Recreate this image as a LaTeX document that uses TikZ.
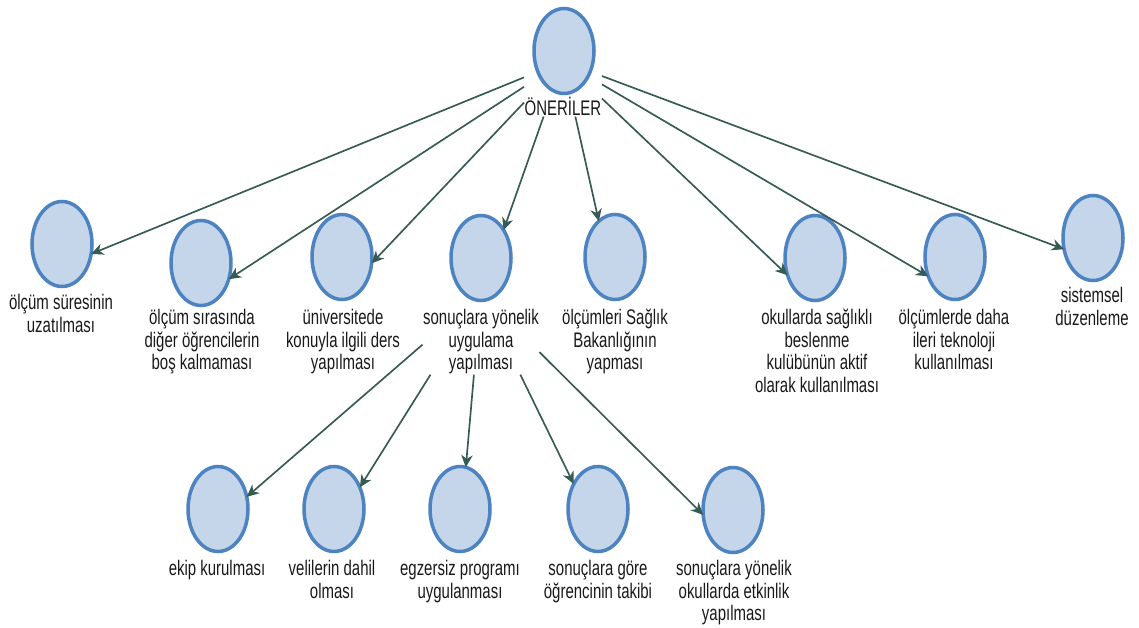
\documentclass[tikz,border=0pt]{standalone}
\usepackage{fontspec}
\setmainfont{Liberation Sans}[FakeStretch=0.71]
\usetikzlibrary{arrows.meta,fit,intersections,shapes.geometric}

\definecolor{ellfill}{HTML}{C5D6EA}
\definecolor{ellline}{HTML}{4D83C0}
\definecolor{arrcol}{HTML}{365A54}

% one idea: ellipse, caption below it, and an invisible frame around both
\newcommand\idea[6]{%
  \node[ell] (#1) at (#2,#3) {};
  \path[name path=e#1] (#2,#3) ellipse [x radius=0.6cm, y radius=0.85cm];
  \node[lbl] (#1t) at (#5,#4) {#6};
  \node[grp, fit=(#1)(#1t)] (#1g) {};
}
% connector aimed from frame centre to frame centre, ending on the ellipse
\newcommand\link[2]{%
  \path[name path=l#1#2] (#1g.center) -- (#2g.center);
  \path[name intersections={of=l#1#2 and e#2, by=tip#1#2}];
  \draw[arr] (#1g) -- (tip#1#2);
}

\begin{document}
\begin{tikzpicture}[x=0.02cm, y=-0.02cm,
  ell/.style={ellipse, draw=ellline, fill=ellfill, line width=2pt,
    minimum width=1.2cm, minimum height=1.7cm, inner sep=0pt},
  lbl/.style={align=center, anchor=north, inner sep=0pt,
    font=\fontsize{12}{12.8}\selectfont, text=black!90},
  grp/.style={inner sep=0pt, draw=none},
  arr/.style={draw=arrcol, line width=0.95pt,
    -{Stealth[length=7pt, width=6.5pt, inset=2.2pt]}}]
\useasboundingbox (0,0) rectangle (1139,628);

% root
\idea{r}{564}{51}{97}{563}{ÖNERİLER}

% first level
\idea{a}{62}{244}{294}{61}{ölçüm süresinin\\uzatılması}
\idea{b}{201}{263}{309}{202}{ölçüm sırasında\\diğer öğrencilerin\\boş kalmaması}
\idea{c}{342}{257}{309}{343}{üniversitede\\konuyla ilgili ders\\yapılması}
\idea{d}{481}{258}{309}{481}{sonuçlara yönelik\\uygulama\\yapılması}
\idea{e}{615}{257}{309}{615}{ölçümleri Sağlık\\Bakanlığının\\yapması}
\idea{f}{815}{258}{309}{817}{okullarda sağlıklı\\beslenme\\kulübünün aktif\\olarak kullanılması}
\idea{g}{955}{257}{309}{954}{ölçümlerde daha\\ileri teknoloji\\kullanılması}
\idea{h}{1093}{238}{287}{1092}{sistemsel\\düzenleme}

% second level
\idea{p}{218}{509}{560}{217}{ekip kurulması}
\idea{q}{334}{509}{560}{332}{velilerin dahil\\olması}
\idea{s}{460}{509}{560}{460}{egzersiz programı\\uygulanması}
\idea{u}{598}{509}{560}{598}{sonuçlara göre\\öğrencinin takibi}
\idea{v}{733}{510}{560}{734}{sonuçlara yönelik\\okullarda etkinlik\\yapılması}

% connectors
\link{r}{a}\link{r}{b}\link{r}{c}\link{r}{d}
\link{r}{e}\link{r}{f}\link{r}{g}\link{r}{h}
\link{d}{p}\link{d}{q}\link{d}{s}\link{d}{u}\link{d}{v}
\end{tikzpicture}
\end{document}
